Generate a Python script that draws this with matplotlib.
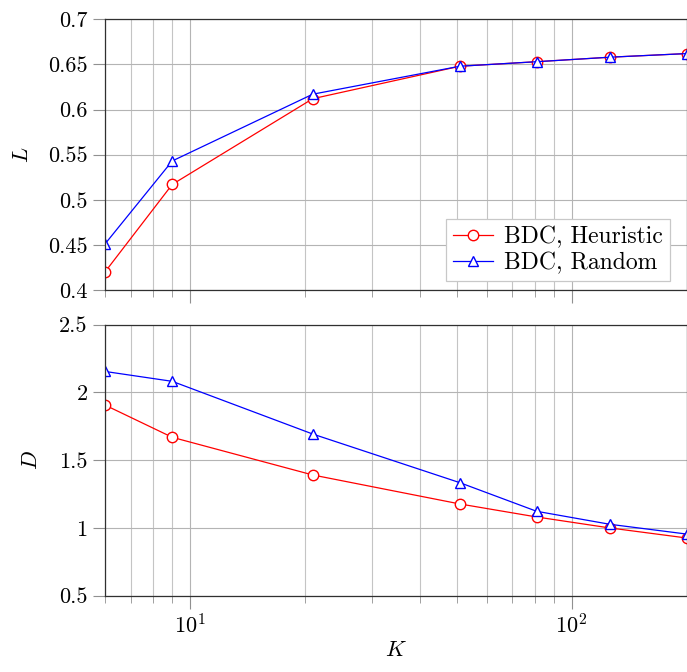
import numpy as np
import matplotlib
matplotlib.use("Agg")
import matplotlib.pyplot as plt
from matplotlib.ticker import NullFormatter, FixedLocator, FixedFormatter

plt.rcParams['font.family'] = 'serif'
plt.rcParams['font.serif'] = ['cmr10']
plt.rcParams['mathtext.fontset'] = 'cm'
plt.rcParams['axes.formatter.use_mathtext'] = True

K = [6, 9, 21, 51, 81, 126, 200]
L_heur = [0.420, 0.517, 0.612, 0.648, 0.653, 0.658, 0.662]
L_rand = [0.451, 0.543, 0.617, 0.648, 0.653, 0.658, 0.662]
D_heur = [1.907, 1.669, 1.391, 1.177, 1.081, 1.000, 0.926]
D_rand = [2.155, 2.082, 1.693, 1.334, 1.123, 1.027, 0.955]

L_ticks = [0.4, 0.45, 0.5, 0.55, 0.6, 0.65, 0.7]
L_labels = ['0.4', '0.45', '0.5', '0.55', '0.6', '0.65', '0.7']
D_ticks = [0.5, 1, 1.5, 2, 2.5]
D_labels = ['0.5', '1', '1.5', '2', '2.5']

W, H = 687, 672
fig = plt.figure(figsize=(W / 100, H / 100), dpi=100)
ax1 = fig.add_axes([105 / W, (H - 290) / H, 581.5 / W, 270.7 / H])
ax2 = fig.add_axes([105 / W, (H - 595.7) / H, 581.5 / W, 271 / H], sharex=ax1)

fs = 16
for ax, yh, yr, ticks, labels, name in [
        (ax1, L_heur, L_rand, L_ticks, L_labels, '$L$'),
        (ax2, D_heur, D_rand, D_ticks, D_labels, '$D$')]:
    ax.plot(K, yh, color='red', lw=0.9, marker='o', ms=7.5, mfc='white',
            mec='red', mew=1.0, label='BDC, Heuristic')
    ax.plot(K, yr, color='blue', lw=0.9, marker='^', ms=7, mfc='white',
            mec='blue', mew=1.0, label='BDC, Random')
    ax.set_xscale('log')
    ax.set_xlim(6, 200)
    ax.set_ylim(ticks[0], ticks[-1])
    ax.yaxis.set_major_locator(FixedLocator(ticks))
    ax.yaxis.set_major_formatter(FixedFormatter(labels))
    ax.xaxis.set_minor_formatter(NullFormatter())
    ax.grid(True, which='major', color='#b4b4b4', lw=0.8)
    ax.grid(True, which='minor', axis='x', color='#c4c4c4', lw=0.8)
    ax.set_axisbelow(True)
    ax.tick_params(axis='both', which='both', direction='out', color='#909090',
                   labelsize=fs, top=False, right=False)
    ax.tick_params(axis='y', which='major', length=9)
    ax.tick_params(axis='x', which='major', length=9)
    ax.tick_params(axis='x', which='minor', length=5)
    ax.set_ylabel(name, fontsize=fs)
    for s in ax.spines.values():
        s.set_color('#303030')
        s.set_linewidth(0.9)

ax1.tick_params(axis='x', which='both', labelbottom=False)
ax1.yaxis.set_label_coords(-0.125, 0.5)
ax2.yaxis.set_label_coords(-0.11, 0.5)
ax2.set_xlabel('$K$', fontsize=fs, labelpad=2)

leg = ax1.legend(loc='lower right', bbox_to_anchor=(0.971, 0.033), borderaxespad=0,
                 fontsize=17, fancybox=False, framealpha=1, edgecolor='#c8c8c8',
                 handlelength=1.7, handletextpad=0.45, borderpad=0.3, labelspacing=0.15)
leg.get_frame().set_linewidth(0.9)

fig.savefig('out.png', dpi=100)
